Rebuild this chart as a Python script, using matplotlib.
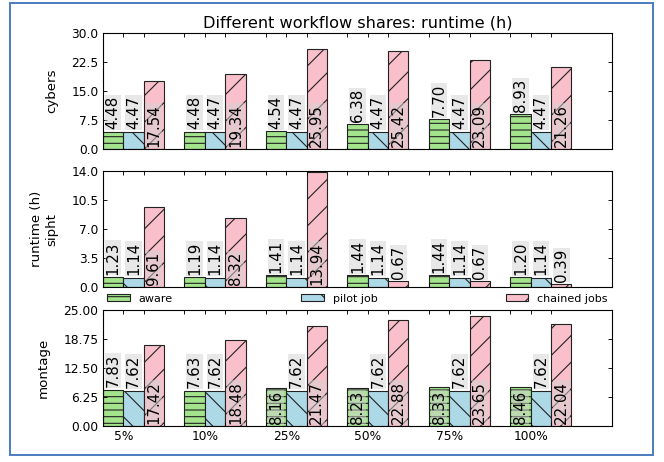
import matplotlib
matplotlib.use('Agg')
import matplotlib.pyplot as plt
import numpy as np
from matplotlib.patches import Rectangle
from matplotlib.ticker import FormatStrFormatter

shares = ['5%', '10%', '25%', '50%', '75%', '100%']
series = ['aware', 'pilot job', 'chained jobs']

cybers_aware = [4.48, 4.48, 4.54, 6.38, 7.70, 8.93]
cybers_pilot = [4.47, 4.47, 4.47, 4.47, 4.47, 4.47]
cybers_chained = [17.54, 19.34, 25.95, 25.42, 23.09, 21.26]

sipht_aware = [1.23, 1.19, 1.41, 1.44, 1.44, 1.20]
sipht_pilot = [1.14, 1.14, 1.14, 1.14, 1.14, 1.14]
sipht_chained = [9.61, 8.32, 13.94, 0.67, 0.67, 0.39]

montage_aware = [7.83, 7.63, 8.16, 8.23, 8.33, 8.46]
montage_pilot = [7.62, 7.62, 7.62, 7.62, 7.62, 7.62]
montage_chained = [17.42, 18.48, 21.47, 22.88, 23.65, 22.04]

colors = ['#a3e38c', '#add8e6', '#f9c0cb']
hatches = ['--', '\\', '/']

plt.rcParams['font.family'] = 'DejaVu Sans'
fig = plt.figure(figsize=(8.3, 5.775), dpi=80)

ind = np.arange(len(shares))
width = 0.25

panels = [
    ('cybers', [cybers_aware, cybers_pilot, cybers_chained], 30.0, '%.1f', 0.6775),
    ('runtime (h)\nsipht', [sipht_aware, sipht_pilot, sipht_chained], 14.0, '%.1f', 0.3788),
    ('montage', [montage_aware, montage_pilot, montage_chained], 25.0, '%.2f', 0.0779),
]

axes = []
for name, data, ymax, fmt, bottom in panels:
    ax = fig.add_axes([0.155, bottom, 0.767, 0.251])
    axes.append(ax)
    for k, vals in enumerate(data):
        ax.bar(ind + k * width, vals, width, align='edge', color=colors[k],
               edgecolor='#222222', linewidth=1.0, hatch=hatches[k], label=series[k])
        for x, v in zip(ind + k * width + width / 2, vals):
            # tall bars get their label at the foot, short ones on top
            y = 0 if v > 0.32 * ymax else v
            ax.annotate('%.2f' % v, (x, y), xytext=(0, 2), textcoords='offset points',
                        rotation=90, ha='center', va='bottom', fontsize=13.5,
                        bbox=dict(boxstyle='square,pad=0.05', facecolor='#d3d3d3',
                                  edgecolor='none', alpha=0.5))
    ax.set_xlim(0, 6.25)
    ax.set_ylim(0, ymax)
    ax.set_yticks(np.linspace(0, ymax, 5))
    ax.yaxis.set_major_formatter(FormatStrFormatter(fmt))
    ticks = np.concatenate([ind, ind + 0.25, ind + 0.5])
    ax.set_xticks(np.sort(ticks))
    ax.tick_params(direction='in', top=True, right=True, length=4, width=0.8,
                   labelsize=11, pad=4)
    ax.set_ylabel(name, fontsize=12, labelpad=12)
    for s in ax.spines.values():
        s.set_linewidth(1.0)

for ax in axes[:2]:
    ax.set_xticklabels([])
labels = []
for s in shares:
    labels += ['', s, '']
axes[2].set_xticklabels(labels)

axes[0].set_title('Different workflow shares: runtime (h)', fontsize=14.5, pad=5)

axes[1].legend(loc='center', bbox_to_anchor=(0., -0.2, 1., 0.2), mode='expand',
               ncol=3, frameon=False, borderaxespad=0, fontsize=10,
               handlelength=2.0, handleheight=0.6)

# outer frame
fig.patches.append(Rectangle((10 / 664, 1 - 455 / 462), 643 / 664, 452 / 462,
                             transform=fig.transFigure, fill=False,
                             edgecolor='#4f7fc0', linewidth=1.8))

fig.savefig('out.png', dpi=80)
